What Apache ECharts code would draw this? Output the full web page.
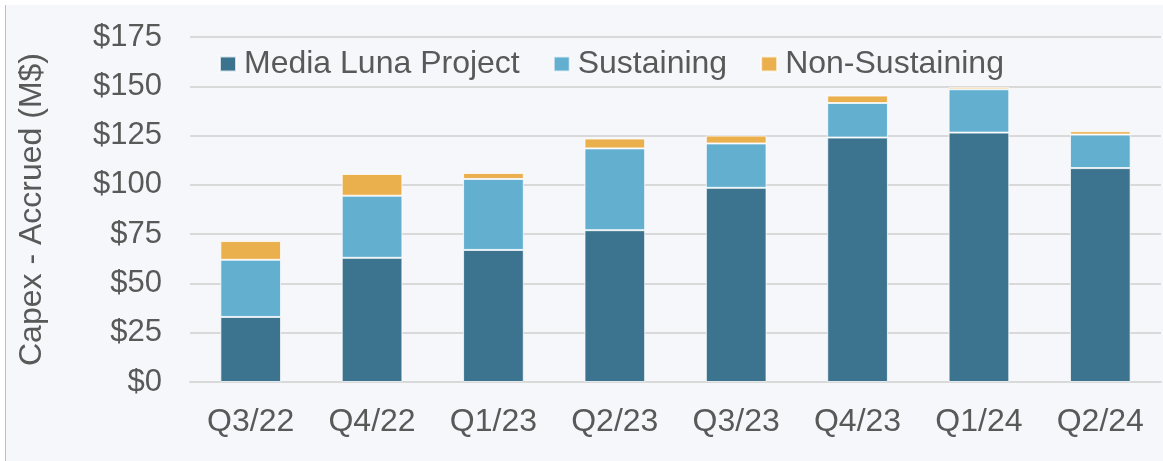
<!DOCTYPE html>
<html>
<head>
<meta charset="utf-8">
<script src="https://cdn.jsdelivr.net/npm/echarts@6/dist/echarts.min.js"></script>
<style>
    html, body { margin: 0; padding: 0; background: #ffffff; }
    #frame {
        position: absolute; left: 5px; top: 5px; width: 1158px; height: 456px;
        background: #f6f7fb; border-left: 1px solid #bfbfbf;
    }
    #capex_chart { position: absolute; left: -6px; top: -5px; width: 1163px; height: 461px; }
</style>
</head>
<body>
<div id="frame"><div id="capex_chart"></div></div>
<script>
var quarters = ['Q3/22', 'Q4/22', 'Q1/23', 'Q2/23', 'Q3/23', 'Q4/23', 'Q1/24', 'Q2/24'];
var mediaLuna = [33, 63, 67, 77, 98.5, 124, 126.5, 108.5];
var sustaining = [29, 31.5, 36, 41.5, 22.5, 17.5, 22, 17];
var nonSustaining = [9.5, 11, 3, 5, 4, 3.8, 1.2, 1.7];

var textColor = '#595959';
var fontName = '"Liberation Sans", Arial, sans-serif';

var chart = echarts.init(document.getElementById('capex_chart'));

var barSeries = function (name, data, color) {
    return {
        name: name,
        type: 'bar',
        stack: 'capex',
        data: data,
        barWidth: '50%',
        itemStyle: {
            color: color,
            borderColor: 'rgba(255,255,255,0.75)',
            borderWidth: 1
        }
    };
};

chart.setOption({
    backgroundColor: 'transparent',
    animation: false,
    textStyle: { fontFamily: fontName },
    legend: {
        left: 219,
        top: 48,
        padding: 0,
        icon: 'rect',
        itemWidth: 16,
        itemHeight: 15,
        itemGap: 33,
        textStyle: {
            color: textColor,
            fontSize: 32,
            fontFamily: fontName,
            padding: [0, 0, 0, 3]
        },
        data: ['Media Luna Project', 'Sustaining', 'Non-Sustaining']
    },
    grid: {
        left: 190,
        right: 2,
        top: 37,
        bottom: 79,
        containLabel: false
    },
    xAxis: {
        type: 'category',
        data: quarters,
        axisLine: { show: true, lineStyle: { color: '#d9d9d9', width: 2 } },
        axisTick: { show: false },
        axisLabel: {
            color: textColor,
            fontSize: 32,
            fontFamily: fontName,
            margin: 24
        }
    },
    yAxis: {
        type: 'value',
        min: 0,
        max: 175,
        interval: 25,
        name: 'Capex - Accrued (M$)',
        nameLocation: 'middle',
        nameGap: 142,
        nameTextStyle: {
            color: textColor,
            fontSize: 32,
            fontFamily: fontName
        },
        axisLine: { show: false },
        axisTick: { show: false },
        axisLabel: {
            color: textColor,
            fontSize: 31,
            fontFamily: fontName,
            margin: 28,
            formatter: function (v) { return '$' + v; }
        },
        splitLine: { lineStyle: { color: '#d9d9d9', width: 2 } }
    },
    series: [
        barSeries('Media Luna Project', mediaLuna, '#3c7490'),
        barSeries('Sustaining', sustaining, '#62afd0'),
        barSeries('Non-Sustaining', nonSustaining, '#ebb04e')
    ]
});
window.onresize = chart.resize;
</script>
</body>
</html>
